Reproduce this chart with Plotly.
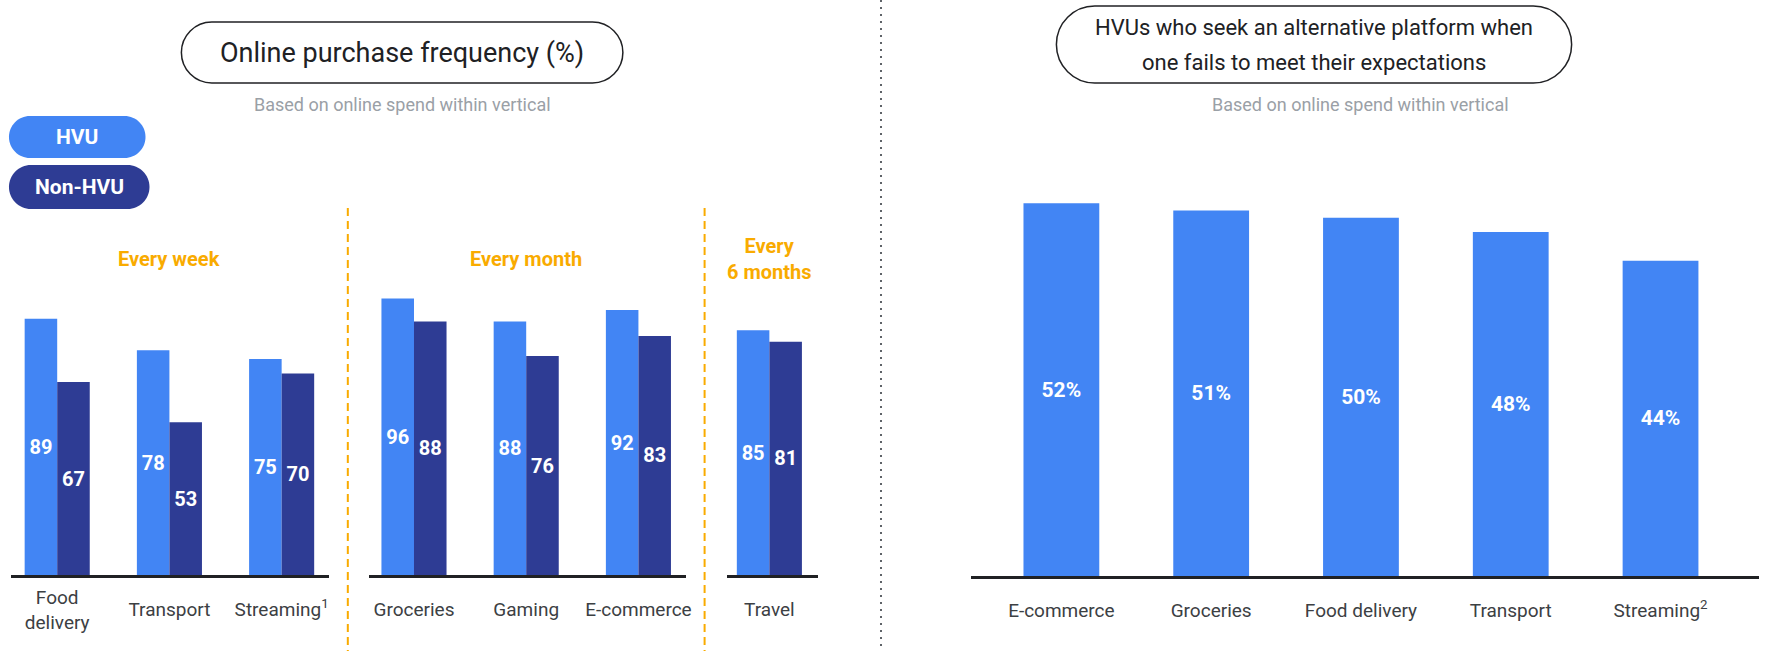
"""HVU purchase frequency + platform switching — two-panel bar chart."""
import plotly.graph_objects as go

W, H = 1765, 651

# data -----------------------------------------------------------------
week_cats = ["Food<br>delivery", "Transport", "Streaming<sup>1</sup>"]
week_hvu = [89, 78, 75]
week_non = [67, 53, 70]

month_cats = ["Groceries", "Gaming", "E-commerce"]
month_hvu = [96, 88, 92]
month_non = [88, 76, 83]

halfyear_cats = ["Travel"]
halfyear_hvu = [85]
halfyear_non = [81]

switch_cats = ["E-commerce", "Groceries", "Food delivery", "Transport",
               "Streaming<sup>2</sup>"]
switch_hvu = [52, 51, 50, 48, 44]

HVU_BLUE = "#4285F4"
NON_BLUE = "#2E3C94"
ORANGE = "#F9AB00"
INK = "#202124"
GREY = "#9AA0A6"
FONT = "Roboto"


def px(x):
    return x / W


def py(y):
    return 1 - y / H


def pill_path(x0, y0, x1, y1):
    """rounded (pill) rectangle in pixel coords -> svg path in paper coords"""
    r = (y1 - y0) / 2
    k = 0.5523 * r
    pts = [
        ("M", [(x0 + r, y0)]),
        ("L", [(x1 - r, y0)]),
        ("C", [(x1 - r + k, y0), (x1, y0 + r - k), (x1, y0 + r)]),
        ("C", [(x1, y0 + r + k), (x1 - r + k, y1), (x1 - r, y1)]),
        ("L", [(x0 + r, y1)]),
        ("C", [(x0 + r - k, y1), (x0, y0 + r + k), (x0, y0 + r)]),
        ("C", [(x0, y0 + r - k), (x0 + r - k, y0), (x0 + r, y0)]),
    ]
    out = ""
    for cmd, ps in pts:
        out += cmd + " ".join(f"{px(a):.5f},{py(b):.5f}" for a, b in ps) + " "
    return out + "Z"


fig = go.Figure()

# left panel: grouped bars on three x axes sharing one y axis ----------
BW = 0.29
groups = [
    ("x", week_cats, week_hvu, week_non),
    ("x2", month_cats, month_hvu, month_non),
    ("x3", halfyear_cats, halfyear_hvu, halfyear_non),
]
for xa, cats, hvu, non in groups:
    idx = list(range(len(cats)))
    for vals, color, off, name in ((hvu, HVU_BLUE, -BW, "HVU"),
                                   (non, NON_BLUE, 0, "Non-HVU")):
        fig.add_trace(go.Bar(
            x=idx, y=vals, width=BW, offset=off, xaxis=xa, yaxis="y",
            marker=dict(color=color, line=dict(width=0)), name=name,
            texttemplate="%{y}", textposition="inside",
            insidetextanchor="middle", textangle=0,
            textfont=dict(family=FONT, size=20, color="white", weight="bold"),
            showlegend=False, hoverinfo="skip"))

# empty helper trace so the overlay axis carrying "Food delivery" is drawn
fig.add_trace(go.Scatter(x=[0], y=[0], xaxis="x5", yaxis="y", mode="none",
                         showlegend=False, hoverinfo="skip"))

# right panel ----------------------------------------------------------
fig.add_trace(go.Bar(
    x=list(range(len(switch_cats))), y=switch_hvu, width=0.506,
    xaxis="x4", yaxis="y2", marker=dict(color=HVU_BLUE, line=dict(width=0)),
    texttemplate="%{y}%", textposition="inside", insidetextanchor="middle",
    textangle=0, textfont=dict(family=FONT, size=21, color="white", weight="bold"),
    showlegend=False, hoverinfo="skip"))

STEP = 112.6  # px per category on the left panel


def cat_axis(x0, x1, center_px, cats, anchor, step, ticks_at=None):
    lo = (x0 - center_px) / step
    hi = (x1 - center_px) / step
    idx = list(range(len(cats))) if ticks_at is None else ticks_at
    return dict(domain=[px(x0), px(x1)], range=[lo, hi], anchor=anchor,
                tickvals=idx, ticktext=[cats[i] for i in idx],
                showline=True, linecolor=INK, linewidth=3, showgrid=False,
                zeroline=False, ticks="", ticklabelstandoff=15,
                tickfont=dict(family=FONT, size=19, color="#3C4043"),
                fixedrange=True)


# two-line "Food delivery" label is centred on the others via an overlay axis
food_axis = cat_axis(11, 330, 57.4, week_cats, "y", STEP, ticks_at=[0])
food_axis.update(overlaying="x", showline=False, ticklabelstandoff=9)

fig.update_layout(
    xaxis=cat_axis(11, 330, 57.4, week_cats, "y", STEP, ticks_at=[1, 2]),
    xaxis5=food_axis,
    xaxis2=cat_axis(370, 688, 415.4, month_cats, "y", STEP),
    xaxis3=cat_axis(729, 821, 772, halfyear_cats, "y", STEP),
    xaxis4=cat_axis(974, 1765, 1065, switch_cats, "y2", 150.3),
    yaxis=dict(domain=[py(575), py(287)], range=[0, 100], visible=False,
               fixedrange=True),
    yaxis2=dict(domain=[py(576), py(146)], range=[0, 60], visible=False,
                anchor="x4", fixedrange=True),
    barmode="overlay",
    width=W, height=H,
    margin=dict(l=0, r=0, t=0, b=0),
    paper_bgcolor="white", plot_bgcolor="white",
    font=dict(family=FONT, color=INK),
)

# decorations ---------------------------------------------------------
shapes = []
# title pills
shapes.append(dict(type="path", xref="paper", yref="paper",
                   path=pill_path(182, 22, 625, 83),
                   line=dict(color=INK, width=1.5), fillcolor="white"))
shapes.append(dict(type="path", xref="paper", yref="paper",
                   path=pill_path(1060, 6, 1577, 83),
                   line=dict(color=INK, width=1.5), fillcolor="white"))
# legend pills
shapes.append(dict(type="path", xref="paper", yref="paper",
                   path=pill_path(9, 116, 146, 158),
                   line=dict(width=0), fillcolor=HVU_BLUE))
shapes.append(dict(type="path", xref="paper", yref="paper",
                   path=pill_path(9, 165, 150, 209),
                   line=dict(width=0), fillcolor=NON_BLUE))
# orange dashed group separators
for xs in (349, 707):
    shapes.append(dict(type="line", xref="paper", yref="paper",
                       x0=px(xs), x1=px(xs), y0=py(208), y1=0,
                       line=dict(color=ORANGE, width=2, dash="8px,5px")))
# dotted panel separator
shapes.append(dict(type="line", xref="paper", yref="paper",
                   x0=px(884), x1=px(884), y0=1, y1=0,
                   line=dict(color="#5F6368", width=2, dash="2px,5px")))
fig.update_layout(shapes=shapes)


def label(text, x, y, size, color, xref="paper"):
    return dict(text=text, xref=xref, yref="paper", x=x, y=y,
                xanchor="center", yanchor="middle", showarrow=False,
                font=dict(family=FONT, size=size, color=color))


ann = [
    label("Online purchase frequency (%)", px(403.5), py(53), 27, INK),
    label("HVUs who seek an alternative platform when", px(1318.5), py(28), 22, INK),
    label("one fails to meet their expectations", px(1318.5), py(62), 22, INK),
    label("Based on online spend within vertical", px(403.5), py(105), 18, GREY),
    label("Based on online spend within vertical", px(1365), py(105), 18, GREY),
    label("<b>HVU</b>", px(77.5), py(137), 21, "white"),
    label("<b>Non-HVU</b>", px(79.5), py(187), 21, "white"),
    # period headers sit over the middle category of each group
    label("<b>Every week</b>", 1, py(259), 20, ORANGE, xref="x"),
    label("<b>Every month</b>", 1, py(259), 20, ORANGE, xref="x2"),
    label("<b>Every<br>6 months</b>", 0, py(259), 20, ORANGE, xref="x3"),
]
fig.update_layout(annotations=ann)

fig.write_html("out.html", config={"displayModeBar": False},
               post_script="document.body.style.margin='0px';")
